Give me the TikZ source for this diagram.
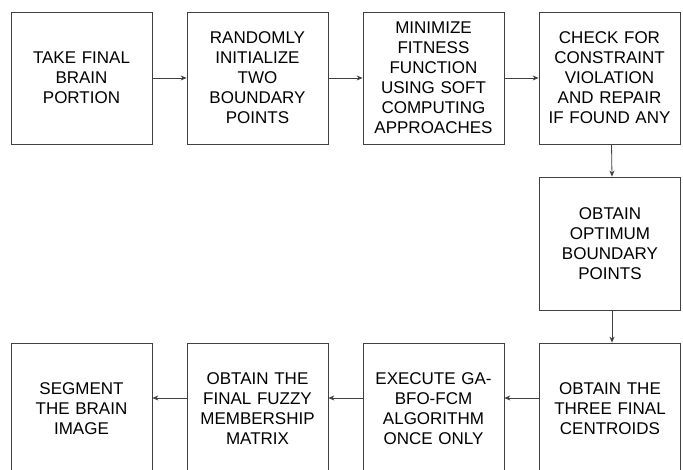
\documentclass[tikz,border=0pt]{standalone}
\usepackage{fontspec}
\setmainfont{Liberation Sans}
\usetikzlibrary{arrows.meta}
\begin{document}
\begin{tikzpicture}[x=1pt,y=-1pt,
  stepbox/.style={draw=black!75,line width=0.8pt,rectangle,minimum width=141pt,minimum height=132pt,
    inner sep=0pt,align=center,text width=135pt,font=\fontsize{17}{20}\selectfont},
  arr/.style={draw=black!75,line width=0.8pt,-{Stealth[length=6pt,width=5pt]}}]
\useasboundingbox (0,0) rectangle (683,470);
\clip (0,0) rectangle (683,470);
\node[stepbox] (b1) at (81.5,78) {TAKE FINAL\\BRAIN\\PORTION};
\node[stepbox] (b2) at (257.5,78) {RANDOMLY\\INITIALIZE\\TWO\\BOUNDARY\\POINTS};
\node[stepbox] (b3) at (433.5,78) {MINIMIZE\\FITNESS\\FUNCTION\\USING SOFT\\COMPUTING\\APPROACHES};
\node[stepbox] (b4) at (609.5,78) {CHECK FOR\\CONSTRAINT\\VIOLATION\\AND REPAIR\\IF FOUND ANY};
\node[stepbox,minimum height=133pt] (b5) at (610,243.5) {OBTAIN\\OPTIMUM\\BOUNDARY\\POINTS};
\node[stepbox] (b6) at (610,409) {OBTAIN THE\\THREE FINAL\\CENTROIDS};
\node[stepbox] (b7) at (433.5,409) {EXECUTE GA-\\BFO-FCM\\ALGORITHM\\ONCE ONLY};
\node[stepbox] (b8) at (257.5,409) {OBTAIN THE\\FINAL FUZZY\\MEMBERSHIP\\MATRIX};
\node[stepbox] (b9) at (81.5,409) {SEGMENT\\THE BRAIN\\IMAGE};
\draw[arr] (b1) -- (b2);
\draw[arr] (b2) -- (b3);
\draw[arr] (b3) -- (b4);
\draw[arr] ([xshift=2pt]b4.south) -- ([xshift=2pt]b5.north);
\draw[arr] ([xshift=2pt]b5.south) -- ([xshift=2pt]b6.north);
\draw[arr] ([yshift=11pt]b6.west) -- ([yshift=11pt]b7.east);
\draw[arr] ([yshift=11pt]b7.west) -- ([yshift=11pt]b8.east);
\draw[arr] ([yshift=11pt]b8.west) -- ([yshift=11pt]b9.east);
\end{tikzpicture}
\end{document}
